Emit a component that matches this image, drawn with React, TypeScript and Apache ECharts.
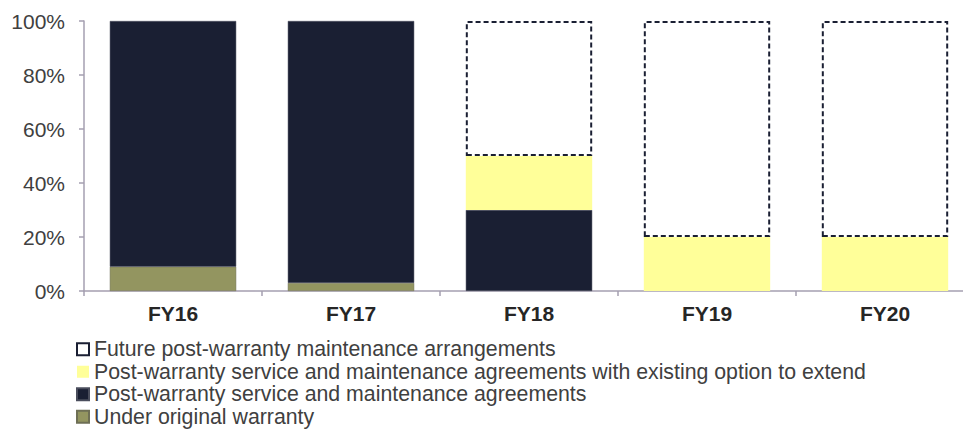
import React, { useEffect, useRef } from "react";
import * as echarts from "echarts";

const categories = ["FY16", "FY17", "FY18", "FY19", "FY20"];
const underWarranty = [9, 3, 0, 0, 0];
const postWarranty = [91, 97, 30, 0, 0];
const postWarrantyOption = [0, 0, 20, 20, 20];
const future = [0, 0, 50, 80, 80];
const yTicks = [0, 20, 40, 60, 80, 100];

const names = {
  future: "Future post-warranty maintenance arrangements",
  option: "Post-warranty service and maintenance agreements with existing option to extend",
  post: "Post-warranty service and maintenance agreements",
  under: "Under original warranty",
};

const FONT = "'Liberation Sans', Arial, sans-serif";

export default function App() {
  const ref = useRef<HTMLDivElement>(null);
  useEffect(() => {
    if (!ref.current) return;
    document.body.style.margin = "0";
    document.body.style.overflow = "hidden";
    const chart = echarts.init(ref.current, undefined, { renderer: "svg" });
    const toData = (arr: number[]) => arr.map((v) => (v === 0 ? null : v));
    chart.setOption({
      animation: false,
      textStyle: { fontFamily: FONT },
      grid: { left: 84, top: 21, height: 270, width: 890, outerBoundsMode: "none", containLabel: false },
      legend: {
        orient: "vertical",
        left: 76,
        top: 338,
        height: 92,
        padding: 0,
        icon: "rect",
        itemWidth: 12,
        itemHeight: 12,
        itemGap: 0,
        selectedMode: false,
        data: [names.future, names.option, names.post, names.under],
        textStyle: { fontFamily: FONT, fontSize: 21.3, color: "#404040", lineHeight: 22.5 },
      },
      xAxis: {
        type: "category",
        data: categories,
        axisLine: { lineStyle: { color: "#a59fb0", width: 1.5 } },
        axisTick: { show: true, length: 5, lineStyle: { color: "#a59fb0", width: 1.5 } },
        axisLabel: { fontFamily: FONT, fontSize: 21, fontWeight: "bold", color: "#262626", margin: 12 },
      },
      yAxis: {
        type: "value",
        min: 0,
        max: 100,
        interval: 20,
        splitLine: { show: false },
        axisLine: { show: true, lineStyle: { color: "#a59fb0", width: 1.5 } },
        axisTick: { show: true, length: 5, lineStyle: { color: "#a59fb0", width: 1.5 } },
        axisLabel: {
          fontFamily: FONT,
          fontSize: 21,
          color: "#404040",
          margin: 19,
          formatter: (v: number) => (yTicks.includes(v) ? v + "%" : ""),
        },
      },
      series: [
        {
          name: names.under,
          type: "bar",
          stack: "s",
          barWidth: "71%",
          data: toData(underWarranty),
          itemStyle: { color: "#939560", borderColor: "#6e6f55", borderWidth: 0.5 },
        },
        {
          name: names.post,
          type: "bar",
          stack: "s",
          data: toData(postWarranty),
          itemStyle: { color: "#1a1f33", borderColor: "#4a4d5c", borderWidth: 0.5 },
        },
        {
          name: names.option,
          type: "bar",
          stack: "s",
          data: toData(postWarrantyOption),
          itemStyle: { color: "#ffff99" },
        },
        {
          name: names.future,
          type: "bar",
          stack: "s",
          data: toData(future),
          itemStyle: {
            color: "rgba(255,255,255,0)",
            borderColor: "#1a1f33",
            borderWidth: 2,
            borderType: [5, 3],
          },
        },
      ],
    });
    return () => chart.dispose();
  }, []);
  return <div ref={ref} style={{ width: 963, height: 430 }} />;
}
